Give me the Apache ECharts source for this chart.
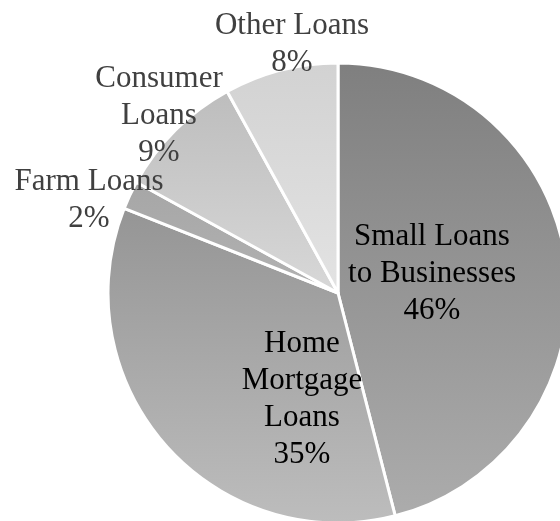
<!DOCTYPE html>
<html>
<head>
<meta charset="utf-8">
<script src="https://cdn.jsdelivr.net/npm/echarts@6/dist/echarts.min.js"></script>
<style>
html,body{margin:0;padding:0;background:#fff;}
#chart{width:560px;height:521px;}
</style>
</head>
<body>
<div id="chart"></div>
<script>
const categories = ["Small Loans\nto Businesses", "Home\nMortgage\nLoans", "Farm Loans", "Consumer\nLoans", "Other Loans"];
const values = [46, 35, 2, 9, 8];

const topColors = ['#7f7f7f', '#959595', '#a6a6a6', '#bdbdbd', '#d2d2d2'];
const bottomColors = ['#acacac', '#bdbdbd', '#b2b2b2', '#d8d8d8', '#e3e3e3'];
const labelColors = ['#000000', '#000000', '#404040', '#404040', '#404040'];
const labelPos = [[432, 274], [302, 399], [89, 200], [159, 116], [292, 44]];

const chart = echarts.init(document.getElementById('chart'), null, {renderer: 'canvas'});
chart.setOption({
  animation: false,
  series: [{
    type: 'pie',
    center: [338, 293],
    radius: 230,
    startAngle: 90,
    clockwise: true,
    avoidLabelOverlap: false,
    labelLine: {show: false},
    itemStyle: {borderColor: '#ffffff', borderWidth: 3},
    label: {
      show: true,
      position: 'inside',
      formatter: '{b}\n{c}%',
      fontFamily: 'Liberation Serif',
      fontSize: 31,
      lineHeight: 37,
      align: 'center'
    },
    labelLayout: function (p) {
      const pos = labelPos[p.dataIndex];
      return {x: pos[0], y: pos[1], align: 'center', verticalAlign: 'middle'};
    },
    data: categories.map((c, i) => ({
      name: c,
      value: values[i],
      itemStyle: {
        color: new echarts.graphic.LinearGradient(0, 0, 0, 1, [
          {offset: 0, color: topColors[i]},
          {offset: 1, color: bottomColors[i]}
        ])
      },
      label: {color: labelColors[i]}
    }))
  }]
});
</script>
</body>
</html>
